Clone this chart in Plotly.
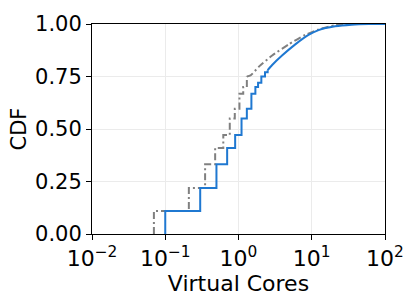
import plotly.graph_objects as go

# Blue (solid) series: step part and smooth tail
blue_step_x = [0.1, 0.1, 0.3, 0.5, 0.7, 0.9, 1.1, 1.3, 1.5, 1.7, 1.85, 2.05, 2.3, 2.5]
blue_step_y = [0.0, 0.109, 0.219, 0.332, 0.409, 0.471, 0.55, 0.597, 0.668, 0.70, 0.72, 0.75, 0.77, 0.78]
blue_tail_x = [2.5, 2.88, 3.93, 5.96, 9.03, 12.4, 20.8, 34.9, 60, 100]
blue_tail_y = [0.78, 0.805, 0.85, 0.903, 0.948, 0.971, 0.989, 0.997, 1.0, 1.0]

# Gray (dash-dot) series
gray_step_x = [0.07, 0.07, 0.21, 0.35, 0.48, 0.62, 0.76, 0.89, 1.03, 1.16, 1.3]
gray_step_y = [0.0, 0.109, 0.219, 0.332, 0.41, 0.471, 0.55, 0.597, 0.668, 0.70, 0.75]
gray_tail_x = [1.3, 1.46, 1.9, 2.88, 4.84, 8.14, 12.4, 20.8, 34.9, 100]
gray_tail_y = [0.75, 0.755, 0.797, 0.85, 0.903, 0.948, 0.974, 0.994, 1.0, 1.0]

x_exponents = [-2, -1, 0, 1, 2]
y_ticks = [0.0, 0.25, 0.5, 0.75, 1.0]

BLUE = "#1f78d1"
GRAY = "#808080"
DASH = "7px,3px,2px,3px"

fig = go.Figure()
fig.add_trace(go.Scatter(x=gray_step_x, y=gray_step_y, mode="lines", line_shape="hv",
                         line=dict(color=GRAY, width=2, dash=DASH), showlegend=False))
fig.add_trace(go.Scatter(x=gray_tail_x, y=gray_tail_y, mode="lines", line_shape="spline",
                         line=dict(color=GRAY, width=2, dash=DASH, smoothing=0.5), showlegend=False))
fig.add_trace(go.Scatter(x=blue_step_x, y=blue_step_y, mode="lines", line_shape="hv",
                         line=dict(color=BLUE, width=2), showlegend=False))
fig.add_trace(go.Scatter(x=blue_tail_x, y=blue_tail_y, mode="lines", line_shape="spline",
                         line=dict(color=BLUE, width=2, smoothing=0.5), showlegend=False))

font = dict(family="DejaVu Sans", size=21, color="black")
xfont = dict(family="DejaVu Sans", size=22, color="black")
fig.update_layout(
    width=416, height=303,
    margin=dict(l=92, r=29, t=17, b=66),
    paper_bgcolor="white", plot_bgcolor="white",
    font=font,
    xaxis=dict(
        type="log", range=[-2, 2],
        tickvals=[10 ** e for e in x_exponents],
        ticktext=["10<sup>%s</sup>" % (str(e).replace("-", "\u2212")) for e in x_exponents],
        ticks="outside", ticklen=5, tickwidth=1, tickcolor="black",
        showline=True, linecolor="black", linewidth=1, mirror=True,
        showgrid=True, gridcolor="#ebebeb", gridwidth=1,
        zeroline=False,
        title=dict(text="Virtual Cores", font=xfont, standoff=4),
        tickfont=xfont,
    ),
    yaxis=dict(
        range=[0, 1],
        tickvals=y_ticks, tickformat=".2f",
        ticks="outside", ticklen=5, tickwidth=1, tickcolor="black",
        showline=True, linecolor="black", linewidth=1, mirror=True,
        showgrid=True, gridcolor="#ebebeb", gridwidth=1,
        zeroline=False,
        title=dict(text="CDF", font=font, standoff=2),
        tickfont=font,
    ),
)

fig.write_html("out.html", config={"displayModeBar": False},
               post_script="document.body.style.margin='0';")
